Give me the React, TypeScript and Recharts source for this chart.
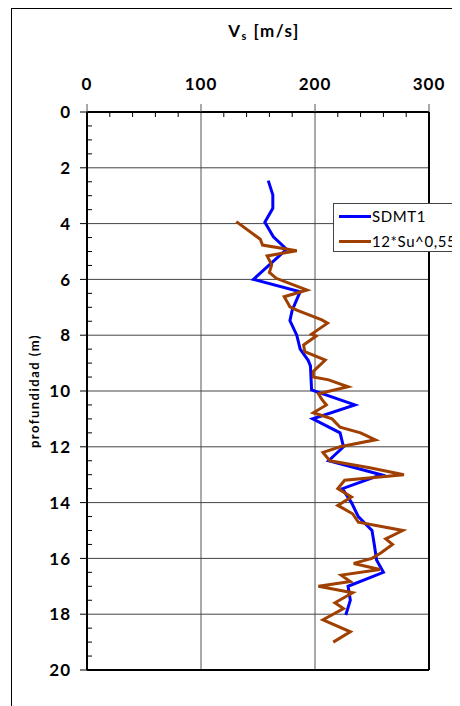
import React from 'react';
import { ScatterChart, Scatter, XAxis, YAxis, ReferenceLine, Legend } from 'recharts';

// depth (m) and Vs (m/s) for SDMT1
const sdmtDepth = [2.46, 2.97, 3.45, 3.95, 4.47, 4.92, 6.0, 6.44, 7.1, 7.48, 8.0, 8.5, 8.9, 9.1, 9.96, 10.5, 11.0, 11.5, 12.0, 12.5, 13.0, 13.5, 14.0, 14.5, 15.0, 15.5, 16.06, 16.5, 17.0, 17.5, 18.03];
const sdmtVs = [159, 163, 163, 156, 163.5, 175, 146, 187, 180, 178, 184, 187, 194, 196, 197, 235, 198, 222, 225, 212, 258, 224, 232, 238, 250, 252, 254, 260, 229, 231, 227];

// depth (m) and Vs (m/s) for 12*Su^0,55
const suDepth = [3.93, 4.56, 4.77, 4.97, 5.16, 5.48, 5.75, 5.96, 6.38, 6.62, 6.98, 7.1, 7.45, 7.57, 7.96, 8.03, 8.35, 8.59, 8.89, 9.3, 9.5, 9.6, 9.85, 10.1, 10.3, 10.5, 10.78, 11.0, 11.3, 11.5, 11.75, 12.0, 12.2, 12.5, 12.75, 13.0, 13.2, 13.5, 13.8, 14.1, 14.4, 14.7, 15.0, 15.3, 15.5, 15.8, 16.0, 16.18, 16.4, 16.6, 16.83, 17.0, 17.23, 17.59, 17.8, 18.2, 18.63, 19.0];
const suVs = [131, 152, 154, 184, 158, 162, 160, 166, 193, 173, 178, 184, 206, 211, 197, 201, 190, 191, 209, 198.5, 198.5, 212, 229, 203, 206, 210, 198.5, 215, 222, 240, 253, 222, 207, 213, 248, 278, 226, 220, 232, 220, 233, 238, 277, 262, 268, 258, 250, 234, 257, 223, 231, 203, 233, 217.5, 225, 207, 231, 216];

const xTicks = [0, 100, 200, 300];
const xMinorTicks = [20, 40, 60, 80, 120, 140, 160, 180, 220, 240, 260, 280];
const yTicks = [0, 2, 4, 6, 8, 10, 12, 14, 16, 18, 20];
const yMinorTicks = [0.5, 1, 1.5, 2.5, 3, 3.5, 4.5, 5, 5.5, 6.5, 7, 7.5, 8.5, 9, 9.5, 10.5, 11, 11.5, 12.5, 13, 13.5, 14.5, 15, 15.5, 16.5, 17, 17.5, 18.5, 19, 19.5];

const sdmtData = sdmtDepth.map((d, i) => ({ d, v: sdmtVs[i] }));
const suData = suDepth.map((d, i) => ({ d, v: suVs[i] }));
const allXTicks = [...xTicks, ...xMinorTicks].sort((a, b) => a - b);
const allYTicks = [...yTicks, ...yMinorTicks].sort((a, b) => a - b);
const xGrid = [100, 200];
const yGrid = [2, 4, 6, 8, 10, 12, 14, 16, 18];

const FONT = 'Lato, "Open Sans", sans-serif';
const BLUE = '#0000FF';
const BROWN = '#A04000';
const X_TICK = 8;
const X_MARGIN = 14;
const Y_TICK = 7;
const Y_MARGIN = 9;
const MINOR = 5;

const XTick = (props: any) => {
  const { x, y, payload } = props;
  const v = payload.value;
  const base = y + X_TICK + X_MARGIN;
  if (xTicks.includes(v)) {
    return (
      <g>
        <line x1={x} x2={x} y1={base - X_TICK} y2={base} stroke="#555" />
        <text x={x} y={y} textAnchor="middle" fontFamily={FONT} fontWeight={700} fontSize={17} letterSpacing={1} fill="#000">{v}</text>
      </g>
    );
  }
  return <line x1={x} x2={x} y1={base} y2={base + MINOR} stroke="#000" />;
};

const YTick = (props: any) => {
  const { x, y, payload } = props;
  const v = payload.value;
  const base = x + Y_TICK + Y_MARGIN;
  if (yTicks.includes(v)) {
    return (
      <g>
        <line x1={base - Y_TICK} x2={base} y1={y} y2={y} stroke="#000" />
        <text x={x} y={y} dy="0.36em" textAnchor="end" fontFamily={FONT} fontWeight={700} fontSize={17} letterSpacing={1} fill="#000">{v}</text>
      </g>
    );
  }
  return <line x1={base} x2={base + MINOR} y1={y} y2={y} stroke="#000" />;
};

const renderTitle = (props: any) => {
  const vb = props.viewBox || {};
  const cx = vb.x + vb.width / 2 + 6;
  return (
    <text x={cx} y={29} textAnchor="middle" fontFamily={FONT} fontWeight={700} fontSize={17} letterSpacing={1.5} fill="#000">
      <tspan>V</tspan>
      <tspan fontSize={11} dy={3}>s</tspan>
      <tspan dy={-3}> [m/s]</tspan>
    </text>
  );
};

const renderYLabel = (props: any) => {
  const vb = props.viewBox || {};
  const cy = vb.y + vb.height / 2;
  const x = 26;
  return (
    <text x={x} y={cy} transform={`rotate(-90 ${x} ${cy})`} textAnchor="middle" dominantBaseline="central" fontFamily={FONT} fontWeight={700} fontSize={13} letterSpacing={1.5} fill="#000">
      profundidad (m)
    </text>
  );
};

const renderLegend = () => (
  <div style={{ border: '1px solid #444', background: '#fff', width: 126, height: 49, boxSizing: 'border-box', fontFamily: FONT, fontSize: 15, color: '#000', position: 'relative' }}>
    {[{ c: BLUE, t: 'SDMT1' }, { c: BROWN, t: '12*Su^0,55' }].map((e, i) => (
      <div key={i} style={{ position: 'absolute', left: 5, top: 4 + i * 25, display: 'flex', alignItems: 'center', height: 16 }}>
        <span style={{ display: 'inline-block', width: 32, height: 3, background: e.c, marginRight: 1 }} />
        <span style={{ letterSpacing: 0.6, whiteSpace: 'nowrap' }}>{e.t}</span>
      </div>
    ))}
  </div>
);

export default function App() {
  return (
    <div style={{ position: 'relative', width: 452, height: 698 }}>
      <div style={{ position: 'absolute', left: 3, top: 0, width: 460, height: 710, borderLeft: '1px solid #000', borderTop: '1px solid #000' }} />
      <div style={{ position: 'absolute', left: 0, top: 0 }}>
        <ScatterChart width={452} height={698} margin={{ top: 60, right: 31, bottom: 36, left: 10 }}>
          {xGrid.map((g) => (
            <ReferenceLine key={'x' + g} x={g} stroke="#555" strokeWidth={1} />
          ))}
          {yGrid.map((g) => (
            <ReferenceLine key={'y' + g} y={g} stroke="#444" strokeWidth={1} />
          ))}
          <XAxis
            type="number"
            dataKey="v"
            orientation="top"
            domain={[0, 300]}
            ticks={allXTicks}
            interval={0}
            height={44}
            tickSize={X_TICK}
            tickMargin={X_MARGIN}
            axisLine={{ stroke: '#000', strokeWidth: 2 }}
            tickLine={false}
            tick={<XTick />}
            allowDataOverflow
            label={{ content: renderTitle }}
          />
          <YAxis
            type="number"
            dataKey="d"
            reversed
            domain={[0, 20]}
            ticks={allYTicks}
            interval={0}
            width={69}
            tickSize={Y_TICK}
            tickMargin={Y_MARGIN}
            axisLine={{ stroke: '#000', strokeWidth: 2 }}
            tickLine={false}
            tick={<YTick />}
            allowDataOverflow
            label={{ content: renderYLabel }}
          />
          <ReferenceLine x={300} stroke="#000" strokeWidth={2} />
          <ReferenceLine y={20} stroke="#000" strokeWidth={2} />
          <Scatter data={sdmtData} name="SDMT1" fill={BLUE} line={{ stroke: BLUE, strokeWidth: 3 }} lineType="joint" shape={() => null} isAnimationActive={false} />
          <Scatter data={suData} name="12*Su^0,55" fill={BROWN} line={{ stroke: BROWN, strokeWidth: 3 }} lineType="joint" shape={() => null} isAnimationActive={false} />
          <Legend content={renderLegend} layout="horizontal" verticalAlign="middle" align="center" wrapperStyle={{ position: 'absolute', left: 325, top: 195, width: 126, height: 49 }} />
        </ScatterChart>
      </div>
    </div>
  );
}
